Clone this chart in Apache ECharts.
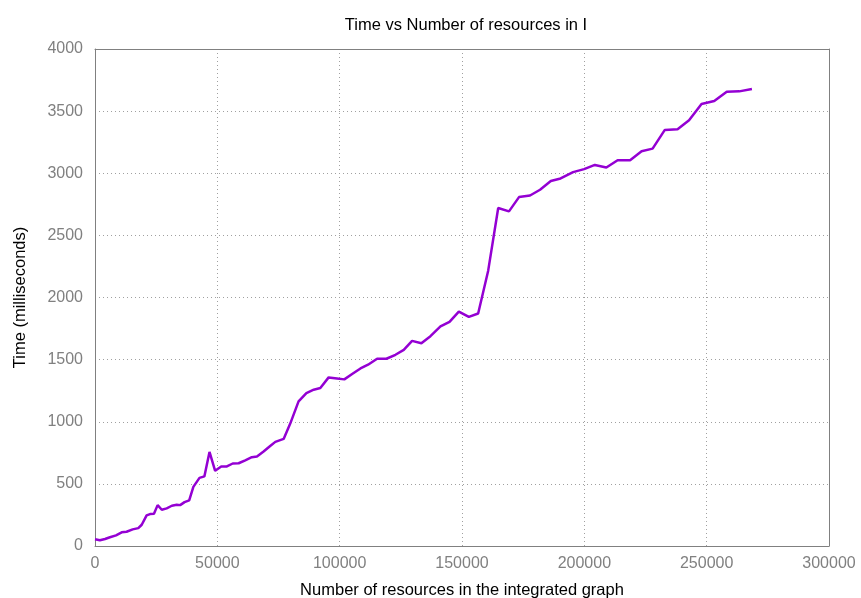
<!DOCTYPE html>
<html>
<head>
<meta charset="utf-8">
<script src="https://cdn.jsdelivr.net/npm/echarts@6/dist/echarts.min.js"></script>
<style>
  html, body { margin: 0; padding: 0; background: #fff; }
  #chart { width: 861px; height: 598px; }
</style>
</head>
<body>
<div id="chart"></div>
<script>
// resources in the integrated graph (x) and time in ms (y)
var resources = [
  0, 2000, 4100, 6100, 8600, 10900, 12900, 15400, 17700, 19100,
  21100, 22500, 24100, 25600, 27300, 29300, 31400, 33400, 34800, 36600,
  38500, 40200, 42700, 44700, 46800, 49100, 51600, 53900, 56300, 58700,
  61400, 64100, 66200, 68900, 71600, 73700, 77100, 79800, 83200, 86400,
  89400, 92100, 95500, 98900, 101900, 105100, 108500, 111600, 115300, 119100,
  122800, 126200, 129600, 133400, 137100, 141200, 144900, 148700, 152800, 156600,
  160700, 164800, 169200, 173300, 177800, 181900, 186300, 190300, 195400, 199900,
  204300, 209000, 213600, 218700, 223400, 227900, 232900, 238100, 242800, 247900,
  253100, 258200, 263300, 268500
];
var timeMs = [
  54, 46, 56, 70, 86, 110, 115, 134, 144, 171,
  246, 257, 260, 329, 292, 303, 324, 332, 329, 353,
  367, 476, 548, 560, 757, 605, 640, 640, 664, 666,
  690, 715, 720, 760, 805, 838, 862, 985, 1164, 1231,
  1258, 1271, 1357, 1349, 1341, 1384, 1429, 1459, 1507, 1507,
  1539, 1579, 1651, 1632, 1689, 1767, 1804, 1887, 1844, 1871,
  2216, 2720, 2693, 2808, 2821, 2867, 2937, 2958, 3009, 3033,
  3067, 3046, 3105, 3105, 3177, 3198, 3349, 3354, 3426, 3557,
  3581, 3656, 3659, 3678
];

var chart = echarts.init(document.getElementById("chart"));

var points = resources.map(function (x, i) {
  return [x, timeMs[i]];
});

var fontFam = "'Liberation Sans', Arial, sans-serif";
var gridLine = { show: true, lineStyle: { color: "#a0a0a0", type: [1, 3], width: 1 } };
var frameLine = { show: true, onZero: false, lineStyle: { color: "#808080", width: 1 } };
var plain = function (v) { return String(v); };

chart.setOption({
  animation: false,
  title: {
    text: "Time vs Number of resources in I",
    left: 461,
    textAlign: "center",
    top: 12,
    textStyle: { fontSize: 16.5, fontWeight: "normal", color: "#000", fontFamily: fontFam },
  },
  grid: { left: 95, right: 32, top: 49, bottom: 52, outerBoundsMode: "none", containLabel: false },
  xAxis: [
    {
      type: "value",
      min: 0,
      max: 300000,
      interval: 50000,
      name: "Number of resources in the integrated graph",
      nameLocation: "middle",
      nameGap: 36,
      nameTextStyle: { fontSize: 16.5, color: "#000", fontFamily: fontFam },
      axisLine: frameLine,
      axisTick: { show: false },
      axisLabel: { fontSize: 16, color: "#808080", margin: 10, fontFamily: fontFam, formatter: plain },
      splitLine: gridLine,
    },
    {
      type: "value", position: "top", min: 0, max: 300000, interval: 50000,
      axisLine: frameLine,
      axisTick: { show: false },
      axisLabel: { show: false }, splitLine: { show: false },
    },
  ],
  yAxis: [
    {
      type: "value",
      min: 0,
      max: 4000,
      interval: 500,
      name: "Time (milliseconds)",
      nameLocation: "middle",
      nameGap: 66,
      nameRotate: 90,
      nameTextStyle: { fontSize: 16.5, color: "#000", fontFamily: fontFam },
      axisLine: frameLine,
      axisTick: { show: false },
      axisLabel: { fontSize: 16, color: "#808080", margin: 12, fontFamily: fontFam, formatter: plain },
      splitLine: gridLine,
    },
    {
      type: "value", position: "right", min: 0, max: 4000, interval: 500,
      axisLine: frameLine,
      axisTick: { show: false },
      axisLabel: { show: false }, splitLine: { show: false },
    },
  ],
  series: [
    {
      type: "line",
      data: points,
      showSymbol: false,
      lineStyle: { color: "#9400d3", width: 2.5 },
      itemStyle: { color: "#9400d3" },
    },
  ],
});
</script>
</body>
</html>
